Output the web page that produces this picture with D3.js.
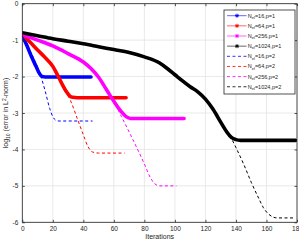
<!DOCTYPE html>
<html><head><meta charset="utf-8">
<script src="https://cdn.jsdelivr.net/npm/d3@7/dist/d3.min.js"></script>
<style>body{margin:0;background:#fff}svg{display:block;font-family:"Liberation Sans",Arial,sans-serif}</style>
</head><body><svg id="c" width="299" height="241"></svg>
<script>
const xTicks = [0,20,40,60,80,100,120,140,160,180];
const yTicks = [0,-1,-2,-3,-4,-5,-6];
const seriesNames = ["16,p=1","64,p=1","256,p=1","1024,p=1","16,p=2","64,p=2","256,p=2","1024,p=2"];
const seriesColors = ["#0000ff","#ff0000","#ff00ff","#000000","#0000ff","#ff0000","#ff00ff","#000000"];
const seriesDashed = [false,false,false,false,true,true,true,true];

const blueP1 = [[0,-0.88],[3,-1.15],[6,-1.45],[9,-1.72],[11,-1.9],[13,-2.0],[15,-2.01],[45,-2.01]];
const redP1 = [[0,-0.85],[5,-1.05],[10,-1.27],[15,-1.48],[20,-1.72],[23,-1.95],[26,-2.2],[29,-2.42],[31,-2.53],[33,-2.57],[36,-2.58],[68,-2.58]];
const magP1 = [[0,-0.85],[10,-1.0],[20,-1.16],[30,-1.37],[40,-1.6],[45,-1.78],[50,-2.02],[55,-2.35],[60,-2.68],[65,-2.97],[68,-3.1],[71,-3.15],[106,-3.15]];
const blackP1 = [[0,-0.8],[10,-0.88],[20,-0.96],[30,-1.03],[40,-1.1],[50,-1.18],[60,-1.26],[70,-1.34],[80,-1.46],[90,-1.63],[95,-1.78],[100,-1.95],[105,-2.12],[110,-2.28],[115,-2.42],[120,-2.62],[125,-2.9],[130,-3.25],[134,-3.52],[137,-3.67],[140,-3.73],[143,-3.75],[179,-3.75]];
const blueP2 = [[0,-0.88],[4,-1.2],[8,-1.55],[12,-1.97],[15,-2.4],[18,-2.88],[20,-3.1],[22,-3.2],[24,-3.22],[46,-3.22]];
const redP2 = [[0,-0.85],[5,-1.05],[10,-1.27],[15,-1.48],[20,-1.72],[24,-2.02],[28,-2.35],[32,-2.7],[36,-3.15],[40,-3.6],[43,-3.92],[46,-4.07],[50,-4.1],[67,-4.1]];
const magP2 = [[0,-0.85],[10,-1.0],[20,-1.16],[30,-1.37],[40,-1.6],[45,-1.78],[50,-2.02],[55,-2.35],[60,-2.68],[65,-3.1],[70,-3.52],[75,-3.95],[80,-4.4],[84,-4.78],[87,-4.95],[90,-5.0],[101,-5.0]];
const blackP2 = [[130,-3.25],[134,-3.52],[137,-3.7],[140,-3.95],[145,-4.4],[150,-4.9],[155,-5.35],[158,-5.6],[161,-5.76],[164,-5.85],[167,-5.88],[178,-5.88]];
const seriesData = [blueP1,redP1,magP1,blackP1,blueP2,redP2,magP2,blackP2];

const svg = d3.select("#c");
const L=22.3, R=297, T=3.7, B=222.3;
const x = d3.scaleLinear().domain([0,180]).range([L,R]);
const y = d3.scaleLinear().domain([-6,0]).range([B,T]);

// grid
const g = svg.append("g");
g.selectAll(".gx").data(xTicks).enter().append("line")
 .attr("x1",d=>x(d)).attr("x2",d=>x(d)).attr("y1",T).attr("y2",B)
 .attr("stroke","#e3e3e3").attr("stroke-width",0.8);
g.selectAll(".gy").data(yTicks).enter().append("line")
 .attr("y1",d=>y(d)).attr("y2",d=>y(d)).attr("x1",L).attr("x2",R)
 .attr("stroke","#e3e3e3").attr("stroke-width",0.8);

// lines
const clip = svg.append("clipPath").attr("id","cp").append("rect")
 .attr("x",L).attr("y",T-3).attr("width",R-L).attr("height",B-T+3);
const lineGen = d3.line().x(d=>x(d[0])).y(d=>y(d[1])).curve(d3.curveMonotoneX);
const lg = svg.append("g").attr("clip-path","url(#cp)");
// dashed first, solid on top? draw dashed after solids so they remain visible where overlapping
[0,1,2,3].forEach(i=>{
  lg.append("path").attr("d",lineGen(seriesData[i])).attr("fill","none")
   .attr("stroke",seriesColors[i]).attr("stroke-width",3.6).attr("stroke-linejoin","round").attr("stroke-linecap","round");
});
[4,5,6,7].forEach(i=>{
  lg.append("path").attr("d",lineGen(seriesData[i])).attr("fill","none")
   .attr("stroke",seriesColors[i]).attr("stroke-width",1).attr("stroke-dasharray","3,2.5");
});

// axes
const ax = svg.append("g");
ax.append("rect").attr("x",L).attr("y",T).attr("width",R-L).attr("height",B-T)
 .attr("fill","none").attr("stroke","#262626").attr("stroke-width",0.8);
const xAxis = d3.axisBottom(x).tickValues(xTicks).tickSize(-2.5).tickPadding(4).tickFormat(d3.format("d"));
const yAxis = d3.axisLeft(y).tickValues(yTicks).tickSize(-2.5).tickPadding(4).tickFormat(d=>d===0?"0":"-"+Math.abs(d));
const xa = ax.append("g").attr("transform",`translate(0,${B})`).call(xAxis);
const ya = ax.append("g").attr("transform",`translate(${L},0)`).call(yAxis);
const xt = ax.append("g").attr("transform",`translate(0,${T})`).call(d3.axisTop(x).tickValues(xTicks).tickSize(-2.5).tickFormat(""));
const yr = ax.append("g").attr("transform",`translate(${R},0)`).call(d3.axisRight(y).tickValues(yTicks).tickSize(-2.5).tickFormat(""));
[xa,ya,xt,yr].forEach(a=>{
  a.select(".domain").remove();
  a.selectAll("line").attr("stroke","#262626").attr("stroke-width",0.8);
  a.selectAll("text").attr("fill","#262626").style("font-size","6.5px").style("font-family","Liberation Sans, Arial, sans-serif");
});

// labels
svg.append("text").attr("x",(L+R)/2).attr("y",239).attr("text-anchor","middle")
 .attr("fill","#262626").style("font-size","7px").text("Iterations");
const yl = svg.append("text").attr("transform",`translate(8,${(T+B)/2}) rotate(-90)`)
 .attr("text-anchor","middle").attr("fill","#262626").style("font-size","7px");
yl.append("tspan").text("log");
yl.append("tspan").attr("dy",1.8).style("font-size","5px").text("10");
yl.append("tspan").attr("dy",-1.8).text(" (error in L");
yl.append("tspan").attr("dy",-2.5).style("font-size","5px").text("2");
yl.append("tspan").attr("dy",2.5).text("-norm)");

// legend
const lx=224, ly=10, lw=71, lh=84;
const leg = svg.append("g");
leg.append("rect").attr("x",lx).attr("y",ly).attr("width",lw).attr("height",lh)
 .attr("fill","#fff").attr("stroke","#262626").attr("stroke-width",0.8);
seriesNames.forEach((nm,i)=>{
  const cy = 15.7 + i*10.15;
  const row = leg.append("g");
  row.append("line").attr("x1",227).attr("x2",246.5).attr("y1",cy).attr("y2",cy)
   .attr("stroke",seriesColors[i]).attr("stroke-width",seriesDashed[i]?1:1)
   .attr("stroke-dasharray",seriesDashed[i]?"3,2.5":null).attr("stroke-opacity",seriesDashed[i]?0.8:0.6);
  if(!seriesDashed[i]){
    const s=2;
    [[0,-s,0,s],[-s,0,s,0],[-s*0.7,-s*0.7,s*0.7,s*0.7],[-s*0.7,s*0.7,s*0.7,-s*0.7]].forEach(a=>{
      row.append("line").attr("x1",237+a[0]).attr("y1",cy+a[1]).attr("x2",237+a[2]).attr("y2",cy+a[3])
       .attr("stroke",seriesColors[i]).attr("stroke-width",0.9);
    });
  }
  const t = row.append("text").attr("x",247.8).attr("y",cy+2).attr("fill","#262626").style("font-size","5.5px");
  t.append("tspan").text("N");
  t.append("tspan").attr("dy",1.2).style("font-size","4px").text("el");
  t.append("tspan").attr("dy",-1.2).text("="+nm);
});
</script></body></html>
